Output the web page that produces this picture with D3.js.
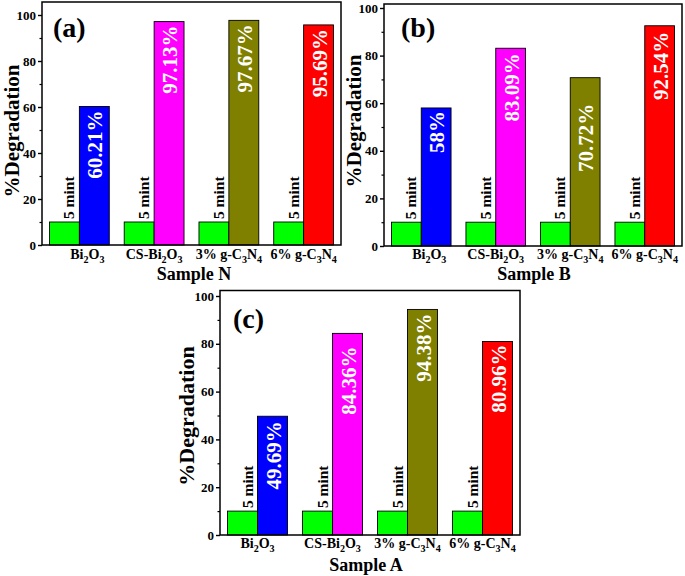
<!DOCTYPE html>
<html>
<head>
<meta charset="utf-8">
<script src="https://cdn.jsdelivr.net/npm/d3@7"></script>
<style>
  html, body { margin: 0; padding: 0; background: #ffffff; }
  svg { display: block; }
</style>
</head>
<body>
<svg id="chart" width="685" height="576"></svg>
<script>
// ---------------- data ----------------
const categories = ["Bi2O3", "CS-Bi2O3", "3% g-C3N4", "6% g-C3N4"];
const fiveMinValues = [10, 10, 10, 10];
const timeLabel = "5 mint";
const sampleN = [60.21, 97.13, 97.67, 95.69];
const sampleB = [58, 83.09, 70.72, 92.54];
const sampleA = [49.69, 84.36, 94.38, 80.96];
const valueLabelsN = ["60.21%", "97.13%", "97.67%", "95.69%"];
const valueLabelsB = ["58%", "83.09%", "70.72%", "92.54%"];
const valueLabelsA = ["49.69%", "84.36%", "94.38%", "80.96%"];
const barColors = ["#0000ff", "#ff00ff", "#808000", "#ff0000"];
const fiveMinColor = "#00ff00";
const yTicks = [0, 20, 40, 60, 80, 100];
const yMinorTicks = [10, 30, 50, 70, 90];
const yTitle = "%Degradation";
const panelLetters = ["(a)", "(b)", "(c)"];
const sampleTitles = ["Sample N", "Sample B", "Sample A"];

// ---------------- layout ----------------
const FONT = "'Liberation Serif', 'Times New Roman', serif";
const panels = [
  { values: sampleN, labels: valueLabelsN, letter: panelLetters[0], title: sampleTitles[0],
    x0: 42, x1: 341, top: 2, y0: 245, y100: 15,
    yTitleX: 19, yTitleY: 131, yTitleSize: 21,
    letterX: 53, letterY: 37, titleX: 194, titleY: 280, tickLabelY: 259,
    firstLabelDx: 8, labelOffsets: [4, 4, 4, 4] },
  { values: sampleB, labels: valueLabelsB, letter: panelLetters[1], title: sampleTitles[1],
    x0: 384, x1: 682, top: 4, y0: 246, y100: 8,
    yTitleX: 361, yTitleY: 121, yTitleSize: 21,
    letterX: 401, letterY: 37, titleX: 534, titleY: 280, tickLabelY: 259,
    firstLabelDx: 8, labelOffsets: [3, 5, 26, 6] },
  { values: sampleA, labels: valueLabelsA, letter: panelLetters[2], title: sampleTitles[2],
    x0: 220, x1: 520, top: 290.5, y0: 535, y100: 296,
    yTitleX: 194, yTitleY: 416, yTitleSize: 22,
    letterX: 233, letterY: 328, titleX: 366, titleY: 571, tickLabelY: 548,
    firstLabelDx: 0, labelOffsets: [5, 13, 4, 3] }
];

const svg = d3.select("#chart");

function addSubscripts(sel, text, size) {
  // digits that follow a letter are chemical subscripts
  const merged = [];
  text.split("").forEach((ch, i) => {
    const prev = i > 0 ? text[i - 1] : "";
    const isSub = /\d/.test(ch) && /[A-Za-z]/.test(prev);
    const last = merged[merged.length - 1];
    if (last && last.isSub === isSub) last.t += ch; else merged.push({ t: ch, isSub });
  });
  let shifted = false;
  merged.forEach(m => {
    const ts = sel.append("tspan").text(m.t);
    if (m.isSub) {
      ts.attr("font-size", size * 0.72).attr("dy", shifted ? 0 : 3.5);
      shifted = true;
    } else {
      ts.attr("font-size", size).attr("dy", shifted ? -3.5 : 0);
      shifted = false;
    }
  });
}

panels.forEach(p => {
  const g = svg.append("g");
  const x = d3.scaleBand().domain(categories).range([p.x0, p.x1]).paddingInner(0.2).paddingOuter(0.1);
  // each band holds the pair of bars (green + coloured)
  const xb = d3.scaleBand().domain([0, 1]).range([0, x.bandwidth()]);
  const y = d3.scaleLinear().domain([0, 100]).range([p.y0, p.y100]);

  // bars: 5 min (green)
  g.selectAll("rect.five").data(categories).join("rect")
    .attr("class", "five")
    .attr("x", d => x(d) + xb(0))
    .attr("y", (d, i) => y(fiveMinValues[i]))
    .attr("width", xb.bandwidth())
    .attr("height", (d, i) => y(0) - y(fiveMinValues[i]))
    .attr("fill", fiveMinColor)
    .attr("stroke", "#000").attr("stroke-width", 0.9);

  // bars: coloured
  g.selectAll("rect.val").data(categories).join("rect")
    .attr("class", "val")
    .attr("x", d => x(d) + xb(1))
    .attr("y", (d, i) => y(p.values[i]))
    .attr("width", xb.bandwidth())
    .attr("height", (d, i) => y(0) - y(p.values[i]))
    .attr("fill", (d, i) => barColors[i])
    .attr("stroke", "#000").attr("stroke-width", 0.9);

  // "5 mint" labels
  g.selectAll("text.five").data(categories).join("text")
    .attr("class", "five")
    .attr("transform", (d, i) => `translate(${x(d) + xb(0) + xb.bandwidth() / 2 + 10},${y(fiveMinValues[i]) - 3}) rotate(-90)`)
    .attr("text-anchor", "start")
    .attr("font-family", FONT).attr("font-weight", "bold").attr("font-size", 15.5)
    .attr("fill", "#000")
    .text(timeLabel);

  // value labels
  g.selectAll("text.val").data(categories).join("text")
    .attr("class", "val")
    .attr("transform", (d, i) => `translate(${x(d) + xb(1) + xb.bandwidth() / 2 + 8},${y(p.values[i]) + p.labelOffsets[i]}) rotate(-90)`)
    .attr("text-anchor", "end")
    .attr("font-family", FONT).attr("font-weight", "bold").attr("font-size", 21)
    .attr("fill", "#fff")
    .text((d, i) => p.labels[i]);

  // y axis
  const yAxis = d3.axisLeft(y).tickValues(yTicks).tickSize(4).tickSizeOuter(0).tickPadding(2);
  const ya = g.append("g").attr("transform", `translate(${p.x0},0)`).call(yAxis);
  ya.select(".domain").remove();
  ya.selectAll(".tick line").attr("stroke", "#000").attr("stroke-width", 1.4);
  ya.selectAll(".tick text").attr("font-family", FONT).attr("font-weight", "bold").attr("font-size", 13).attr("fill", "#000");
  const yMinor = d3.axisLeft(y).tickValues(yMinorTicks).tickSize(2.5).tickSizeOuter(0).tickFormat("");
  const ym = g.append("g").attr("transform", `translate(${p.x0},0)`).call(yMinor);
  ym.select(".domain").remove();
  ym.selectAll(".tick line").attr("stroke", "#000").attr("stroke-width", 1.2);

  // frame
  g.append("rect")
    .attr("x", p.x0).attr("y", p.top)
    .attr("width", p.x1 - p.x0).attr("height", p.y0 - p.top)
    .attr("fill", "none").attr("stroke", "#000").attr("stroke-width", 1.5);

  // x tick labels
  categories.forEach((c, i) => {
    const t = g.append("text")
      .attr("x", x(c) + x.bandwidth() / 2 + (i === 0 ? p.firstLabelDx : 0))
      .attr("y", p.tickLabelY)
      .attr("text-anchor", "middle")
      .attr("font-family", FONT).attr("font-weight", "bold").attr("font-size", 14)
      .attr("fill", "#000");
    addSubscripts(t, c, 14);
  });

  // x title
  g.append("text")
    .attr("x", p.titleX).attr("y", p.titleY)
    .attr("text-anchor", "middle")
    .attr("font-family", FONT).attr("font-weight", "bold").attr("font-size", 18)
    .attr("fill", "#000")
    .text(p.title);

  // y title
  g.append("text")
    .attr("transform", `translate(${p.yTitleX},${p.yTitleY}) rotate(-90)`)
    .attr("text-anchor", "middle")
    .attr("font-family", FONT).attr("font-weight", "bold").attr("font-size", p.yTitleSize)
    .attr("fill", "#000")
    .text(yTitle);

  // panel letter
  g.append("text")
    .attr("x", p.letterX).attr("y", p.letterY)
    .attr("font-family", FONT).attr("font-weight", "bold").attr("font-size", 28)
    .attr("fill", "#000")
    .text(p.letter);
});
</script>
</body>
</html>
